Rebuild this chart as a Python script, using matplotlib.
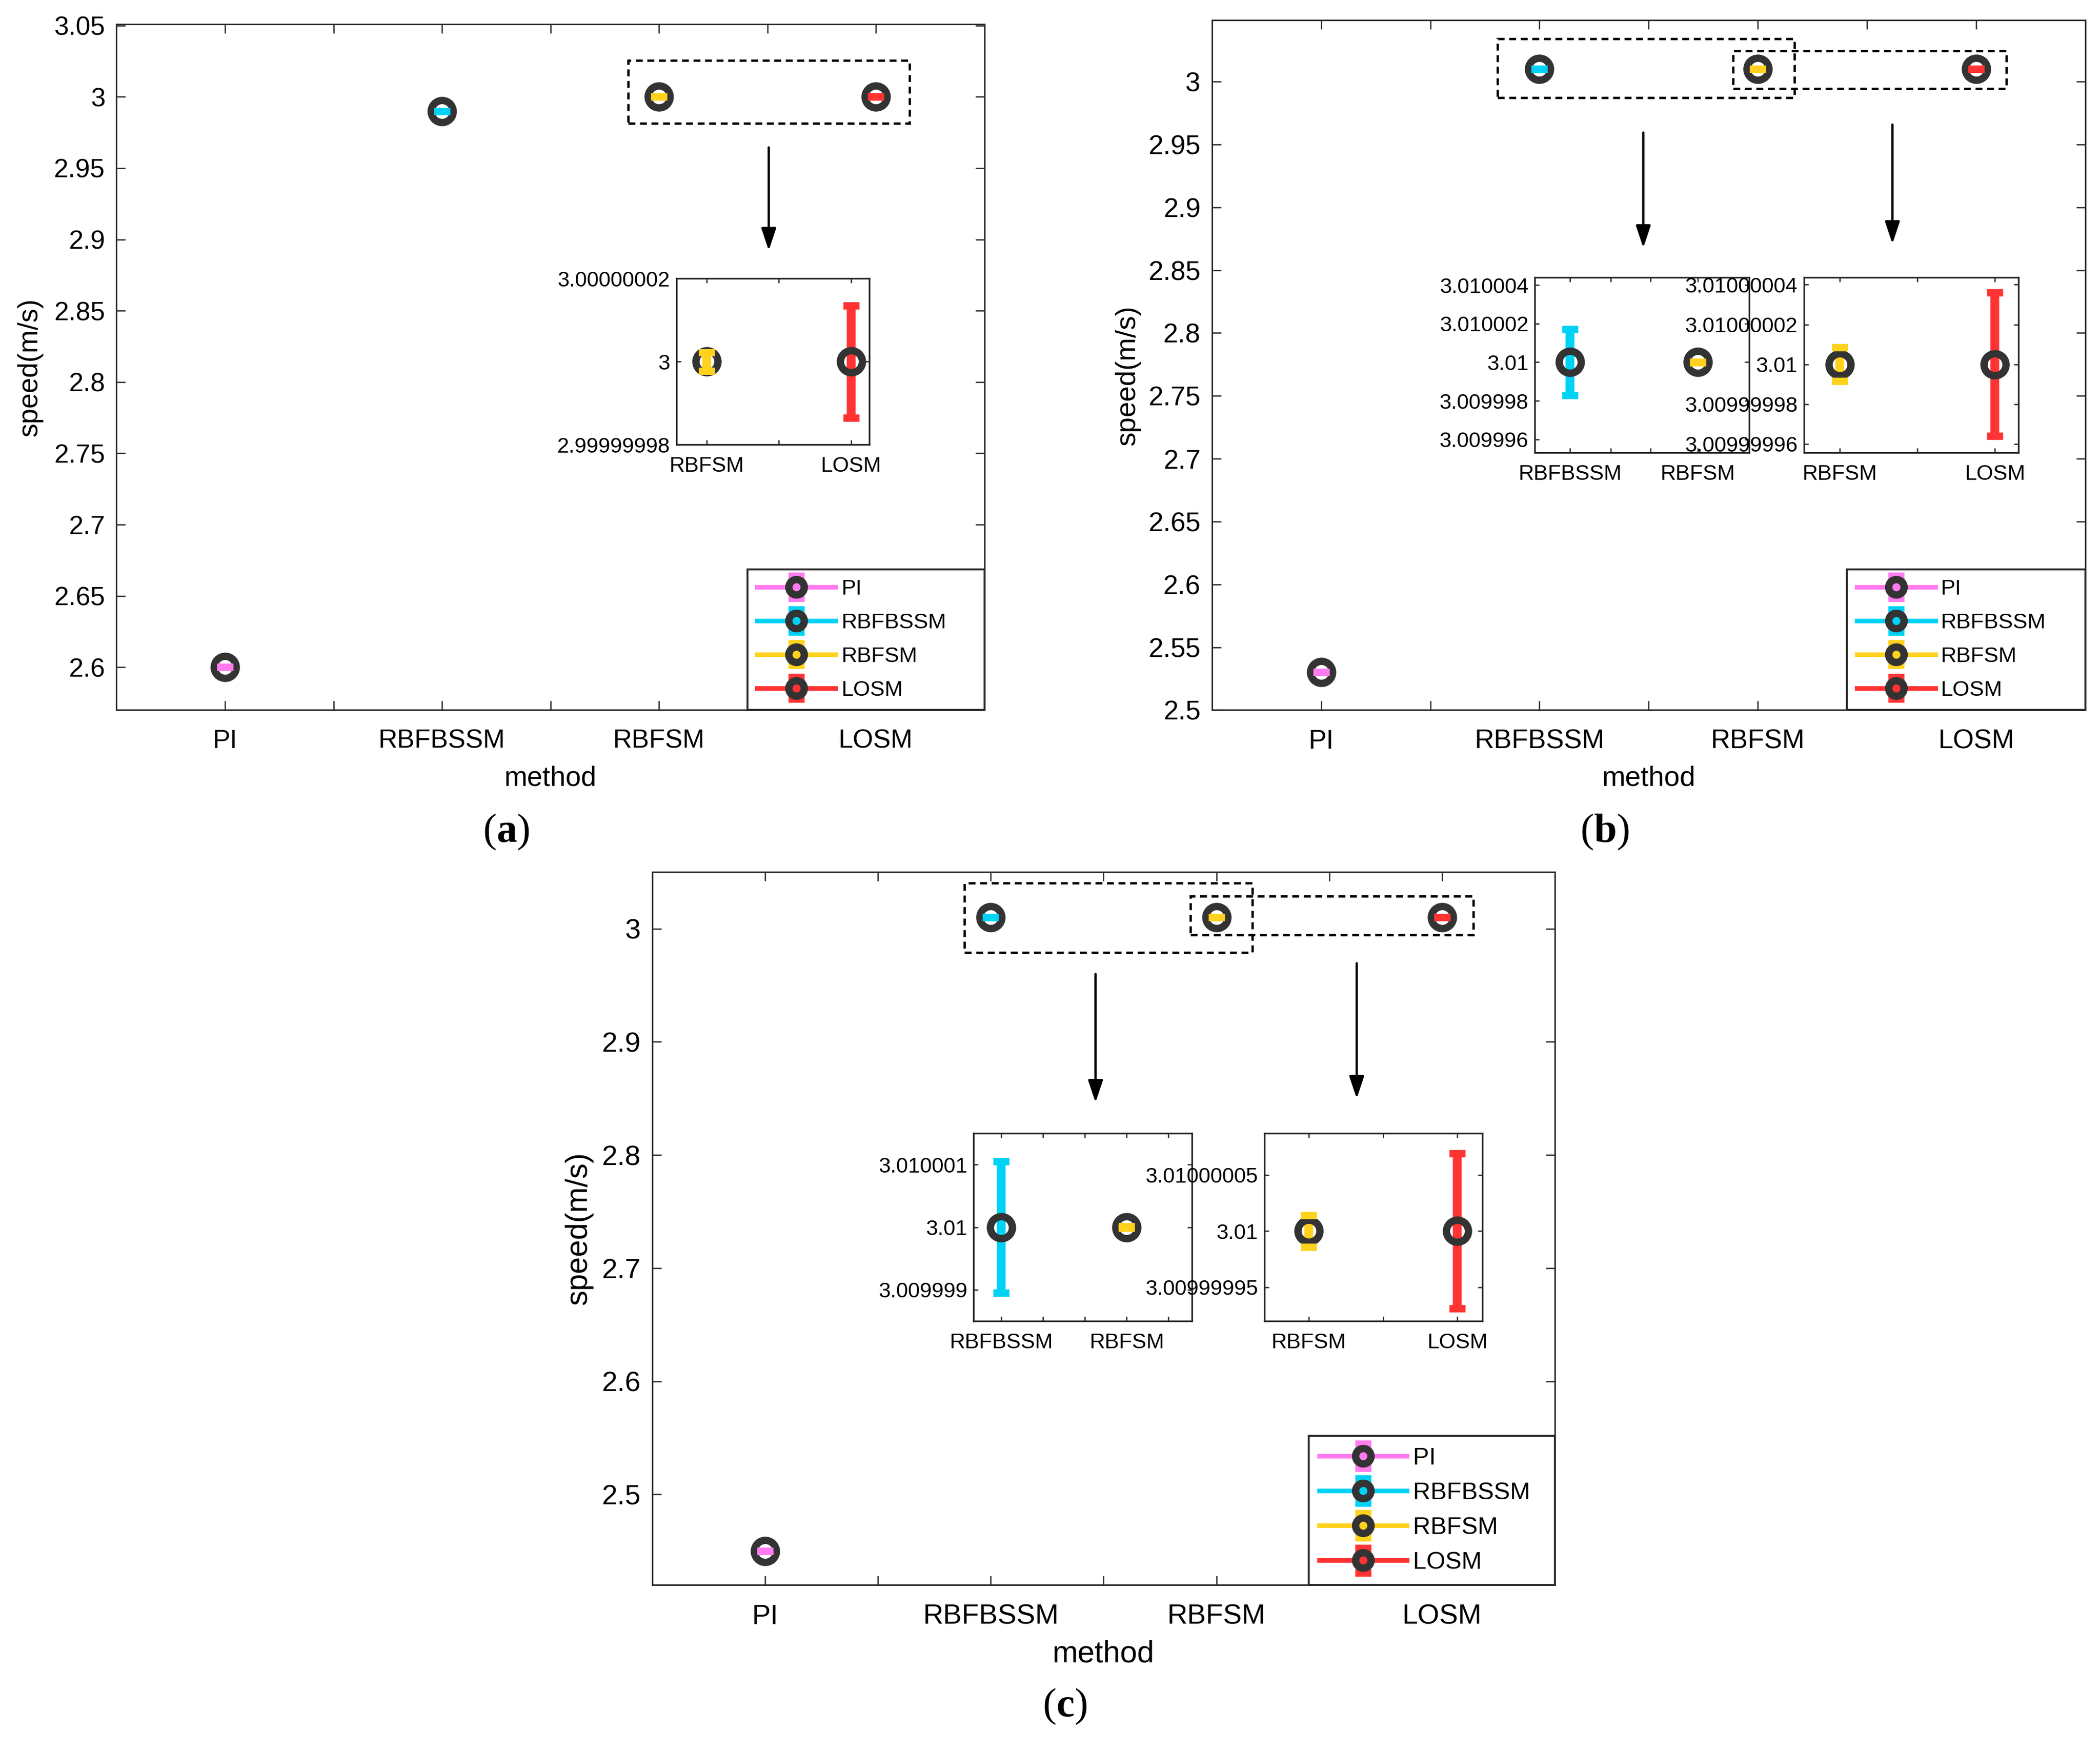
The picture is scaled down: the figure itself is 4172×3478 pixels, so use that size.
import numpy as np
import matplotlib
matplotlib.use('Agg')
import matplotlib.pyplot as plt
from matplotlib.patches import Rectangle
from matplotlib.ticker import FormatStrFormatter

plt.rcParams['font.family'] = 'Liberation Sans'
plt.rcParams['mathtext.fontset'] = 'custom'
plt.rcParams['mathtext.bf'] = 'Liberation Serif:bold'

methods = ['PI', 'RBFBSSM', 'RBFSM', 'LOSM']
colors = ['#FF7BEF', '#00D2F5', '#FFD21E', '#FF3333']

# mean speed and error of each method, per case
speed_a = [2.6, 2.99, 3.0, 3.0]
err_a = [1e-9, 1e-9, 2.2e-9, 1.35e-8]
speed_b = [2.53, 3.01, 3.01, 3.01]
err_b = [1e-9, 1.7e-6, 8.5e-9, 3.6e-8]
speed_c = [2.45, 3.01, 3.01, 3.01]
err_c = [1e-9, 1.05e-6, 1.4e-8, 6.9e-8]

# zoomed tick values / labels for the insets
ins_a_yticks = [2.99999998, 3.0, 3.00000002]
ins_a_ylabels = ['2.99999998', '3', '3.00000002']
ins_b1_yticks = [3.009996, 3.009998, 3.01, 3.010002, 3.010004]
ins_b1_ylabels = ['3.009996', '3.009998', '3.01', '3.010002', '3.010004']
ins_b2_yticks = [3.00999996, 3.00999998, 3.01, 3.01000002, 3.01000004]
ins_b2_ylabels = ['3.00999996', '3.00999998', '3.01', '3.01000002', '3.01000004']
ins_c1_yticks = [3.009999, 3.01, 3.010001]
ins_c1_ylabels = ['3.009999', '3.01', '3.010001']
ins_c2_yticks = [3.00999995, 3.01, 3.01000005]
ins_c2_ylabels = ['3.00999995', '3.01', '3.01000005']

EDGE = '#333333'
AXC = '#262626'
W, H = 1568.0, 1307.0


def frect(x0, y0, x1, y1):
    return [x0 / W, 1 - y1 / H, (x1 - x0) / W, (y1 - y0) / H]


def fpt(x, y):
    return (x / W, 1 - y / H)


def draw_points(ax, idx, speed, err):
    handles = []
    for i in idx:
        eb = ax.errorbar(i + 1, speed[i], yerr=err[i], fmt='-o', color=colors[i],
                         lw=2.2, ms=10.5, mfc='none', mec=EDGE, mew=3.5,
                         elinewidth=4.2, capsize=3.8, capthick=3.6, label=methods[i])
        for cap in eb[1]:
            cap.set_zorder(3)
        handles.append(eb)
    return handles


def style_axes(ax, fs, lw=0.7, length=4.3, xpad=9, ypad=5.5):
    for s in ax.spines.values():
        s.set_linewidth(lw)
        s.set_color(AXC)
    ax.tick_params(direction='in', top=True, right=True, length=length, width=0.6,
                   colors=AXC, labelcolor='black', labelsize=fs)
    ax.tick_params(axis='x', pad=xpad)
    ax.tick_params(axis='y', pad=ypad)


def main_panel(rect, speed, err, ylim, yticks, fs, lab_fs, leg_fs, leg_sp, ylab_pos, xlab_y):
    ax = fig.add_axes(frect(*rect))
    hs = draw_points(ax, range(4), speed, err)
    ax.set_xlim(0.5, 4.5)
    ax.set_ylim(*ylim)
    ax.set_xticks(np.arange(1, 4.01, 0.5))
    ax.set_xticklabels(['PI', '', 'RBFBSSM', '', 'RBFSM', '', 'LOSM'])
    ax.set_yticks(yticks)
    ax.yaxis.set_major_formatter(FormatStrFormatter('%g'))
    style_axes(ax, fs)
    ax.set_ylabel('speed(m/s)', fontsize=lab_fs, va='center')
    ax.yaxis.set_label_coords(*ylab_pos)
    ax.set_xlabel('method', fontsize=lab_fs, va='center')
    ax.xaxis.set_label_coords(0.5, xlab_y)
    lw_frac = 0.273
    leg = ax.legend(hs, methods, loc='lower right', mode='expand',
                    bbox_to_anchor=(1 - lw_frac, 0, lw_frac, 1),
                    borderaxespad=0, fontsize=leg_fs, handlelength=3.6,
                    handletextpad=0.25, labelspacing=leg_sp, borderpad=0.45,
                    markerscale=0.7, fancybox=False, framealpha=1)
    leg.get_frame().set_edgecolor(AXC)
    leg.get_frame().set_linewidth(0.9)
    return ax


def inset(rect, idx, speed, err, xlim, xticks, xlabels, ylim, yticks, ylabels):
    ax = fig.add_axes(frect(*rect))
    draw_points(ax, idx, speed, err)
    ax.set_xlim(*xlim)
    ax.set_ylim(*ylim)
    ax.set_xticks(xticks)
    ax.set_xticklabels(xlabels)
    ax.set_yticks(yticks)
    ax.set_yticklabels(ylabels)
    style_axes(ax, 10.2, lw=0.8, length=2.2, xpad=5.5, ypad=3)
    return ax


def dashed_box(x0, y0, x1, y1):
    fig.patches.append(Rectangle(fpt(x0, y1), (x1 - x0) / W, (y1 - y0) / H,
                                 transform=fig.transFigure, fill=False, ec='black',
                                 lw=1.1, ls=(0, (3, 2))))


def arrow(x, y0, y1):
    fig.add_artist(matplotlib.patches.FancyArrowPatch(
        fpt(x, y0), fpt(x, y1), transform=fig.transFigure,
        arrowstyle='-|>,head_length=0.9,head_width=0.3', mutation_scale=10,
        lw=1.1, color='black', shrinkA=0, shrinkB=0))


def panel_label(x, y, letter):
    fig.text(x / W, 1 - y / H, '($\\mathbf{%s}$)' % letter, ha='center', va='center',
             fontsize=19.5, family='Liberation Serif')


fig = plt.figure(figsize=(4172 / 300, 3478 / 300), dpi=300)
fig.patch.set_facecolor('white')

# (a)
main_panel((87, 18, 735, 530), speed_a, err_a, (2.57, 3.051),
           np.arange(2.6, 3.051, 0.05), 12.5, 13.2, 10.4, 0.62, (-0.100, 0.5), -0.0996)
inset((505, 208, 649, 332), [2, 3], speed_a, err_a, (2.79, 4.125), [3, 3.5, 4],
      ['RBFSM', '', 'LOSM'], (2.99999998, 3.00000002), ins_a_yticks, ins_a_ylabels)
dashed_box(469, 45, 679, 92)
arrow(574, 110, 187)
panel_label(378, 621, 'a')

# (b)
main_panel((905, 15, 1557, 530), speed_b, err_b, (2.5, 3.049),
           np.arange(2.5, 3.001, 0.05), 12.8, 13.4, 10.4, 0.62, (-0.0966, 0.485), -0.099)
inset((1146, 207, 1306, 338), [1, 2], speed_b, err_b, (1.725, 3.4), [2, 2.32, 2.63, 3],
      ['RBFBSSM', '', '', 'RBFSM'], (3.0099953, 3.0100044), ins_b1_yticks, ins_b1_ylabels)
inset((1347, 207, 1507, 338), [2, 3], speed_b, err_b, (2.77, 4.15), [3, 3.5, 4],
      ['RBFSM', '', 'LOSM'], (3.0099999555, 3.0100000437), ins_b2_yticks, ins_b2_ylabels)
dashed_box(1118, 29, 1340, 73)
dashed_box(1294, 38, 1498, 66)
arrow(1227, 99, 185)
arrow(1413, 93, 182)
panel_label(1198, 621, 'b')

# (c)
main_panel((487, 651, 1161, 1183), speed_c, err_c, (2.42, 3.05),
           np.arange(2.5, 3.001, 0.1), 13.4, 14.6, 11.6, 0.5, (-0.0816, 0.5), -0.0977)
inset((727, 846, 890, 986), [1, 2], speed_c, err_c, (1.78, 3.52),
      [2, 2.333, 2.667, 3, 3.333], ['RBFBSSM', '', '', 'RBFSM', ''],
      (3.0099985, 3.0100015), ins_c1_yticks, ins_c1_ylabels)
inset((944, 846, 1107, 986), [2, 3], speed_c, err_c, (2.70, 4.17), [3, 3.5, 4],
      ['RBFSM', '', 'LOSM'], (3.01 - 8.0e-8, 3.01 + 8.7e-8), ins_c2_yticks, ins_c2_ylabels)
dashed_box(720, 659, 935, 711)
dashed_box(889, 669, 1100, 698)
arrow(818, 727, 823)
arrow(1013, 719, 820)
panel_label(795, 1274, 'c')

fig.savefig('out.png', dpi=300, facecolor='white')
